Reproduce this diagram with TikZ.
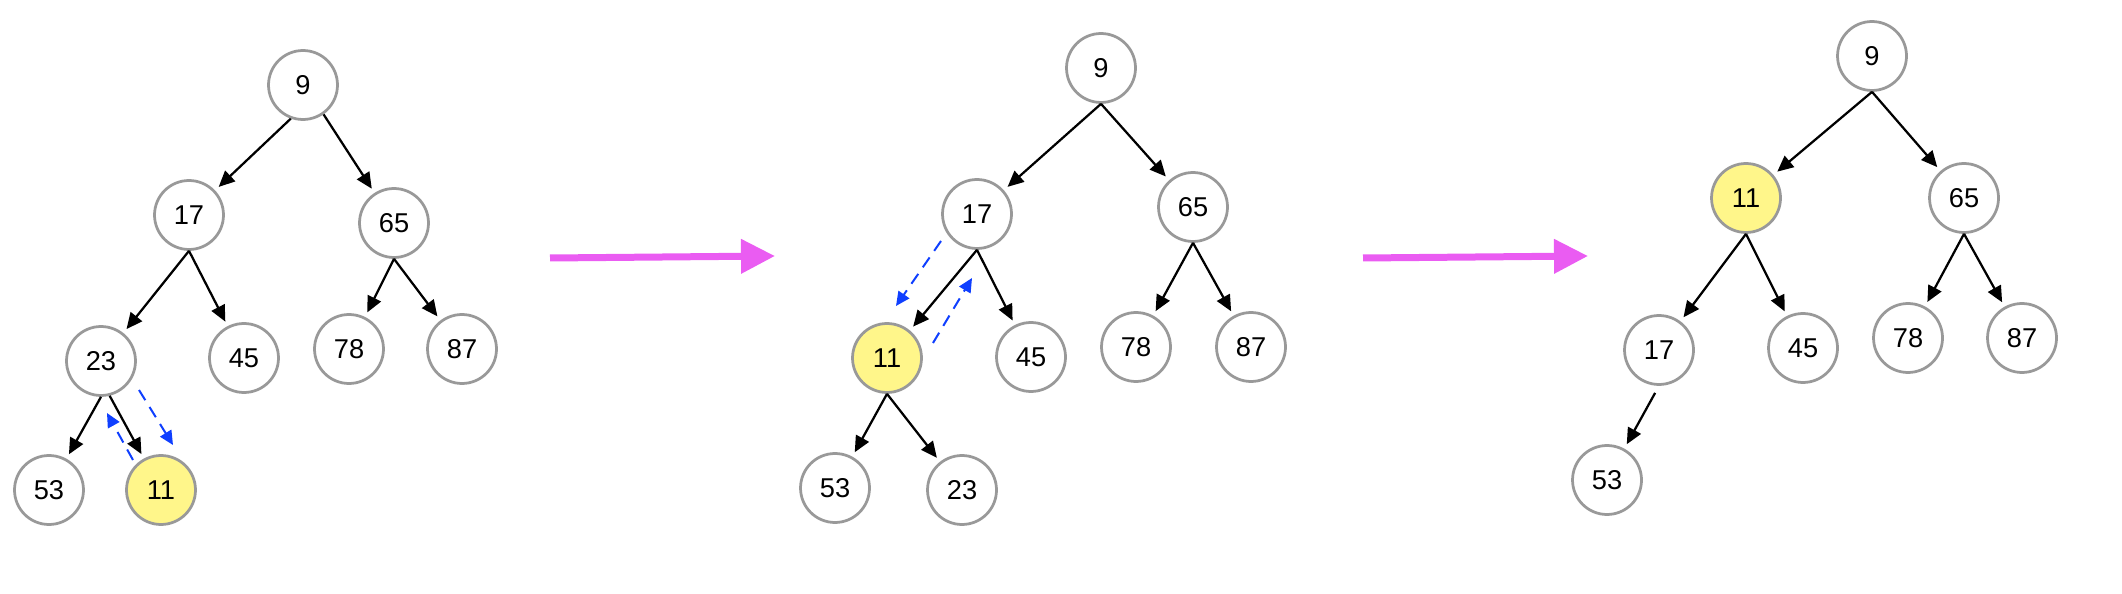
\documentclass[tikz,border=0pt]{standalone}
\usepackage{fontspec}
\setmainfont{Liberation Sans}
\usetikzlibrary{arrows.meta}

\definecolor{ringgray}{HTML}{999999}
\definecolor{movedyellow}{HTML}{FFF68A}
\definecolor{swapblue}{HTML}{0F3FFF}
\definecolor{stepmagenta}{HTML}{EA5CF2}

\begin{document}
\begin{tikzpicture}[x=0.02cm,y=-0.02cm,
    heapnode/.style={circle,draw=ringgray,line width=0.055cm,fill=white,
      minimum size=1.38cm,inner sep=0pt,font=\fontsize{15.5}{18}\selectfont},
    moved/.style={fill=movedyellow},
    heapedge/.style={-{Triangle[length=0.32cm,width=0.29cm]},line width=0.045cm,
      black,shorten >=0.1cm},
    swapline/.style={-{Triangle[length=0.28cm,width=0.26cm]},swapblue,
      line width=0.04cm,dash pattern=on 0.24cm off 0.16cm},
    nextarrow/.style={-{Triangle[length=0.68cm,width=0.66cm]},stepmagenta,
      line width=0.14cm}]
  % Fix the page to the picture
  \useasboundingbox (0,0) rectangle (2122,594);

  % First heap: 11 appended at the bottom
  \begin{scope}[every node/.append style={minimum size=1.33cm}]
    \node[heapnode] (a9)  at (303,85)  {9};
    \node[heapnode] (a17) at (189,215) {17};
    \node[heapnode] (a65) at (394,223) {65};
    \node[heapnode] (a23) at (101,361) {23};
    \node[heapnode] (a45) at (244,358) {45};
    \node[heapnode] (a78) at (349,349) {78};
    \node[heapnode] (a87) at (462,349) {87};
    \node[heapnode] (a53) at (49,490)  {53};
    \node[heapnode,moved] (a11) at (161,490) {11};
  \end{scope}
  \draw[heapedge] (a9.-110) -- (a17);
  \draw[heapedge] (a9.-55) -- (a65);
  \draw[heapedge] (a23.-76) -- (a11);
  \foreach \p/\c in {a17/a23,a17/a45,a65/a78,a65/a87,a23/a53}
    \draw[heapedge] (\p.south) -- (\c);

  % swap 23 <-> 11
  \coordinate (aup1) at (133,460);
  \coordinate (aup2) at (107,413);
  \coordinate (adn1) at (139,390);
  \coordinate (adn2) at (173,445);
  \draw[swapline] (aup1) -- (aup2);
  \draw[swapline] (adn1) -- (adn2);

  % Second heap: 11 one level up
  \begin{scope}[every node/.append style={minimum size=1.38cm}]
    \node[heapnode] (b9)  at (1101,68)  {9};
    \node[heapnode] (b17) at (977,214)  {17};
    \node[heapnode] (b65) at (1193,207) {65};
    \node[heapnode,moved] (b11) at (887,358) {11};
    \node[heapnode] (b45) at (1031,357) {45};
    \node[heapnode] (b78) at (1136,347) {78};
    \node[heapnode] (b87) at (1251,347) {87};
    \node[heapnode] (b53) at (835,488)  {53};
    \node[heapnode] (b23) at (962,490)  {23};
  \end{scope}
  \foreach \p/\c in {b9/b17,b9/b65,b17/b11,b17/b45,b65/b78,b65/b87,b11/b53,b11/b23}
    \draw[heapedge] (\p.south) -- (\c);

  % swap 17 <-> 11
  \coordinate (bdn1) at (941,241);
  \coordinate (bdn2) at (896,306);
  \coordinate (bup1) at (933,343);
  \coordinate (bup2) at (972,278);
  \draw[swapline] (bdn1) -- (bdn2);
  \draw[swapline] (bup1) -- (bup2);

  % Third heap: final state
  \begin{scope}[every node/.append style={minimum size=1.42cm}]
    \node[heapnode] (c9)  at (1872,56)  {9};
    \node[heapnode,moved] (c11) at (1746,198) {11};
    \node[heapnode] (c65) at (1964,198) {65};
    \node[heapnode] (c17) at (1659,350) {17};
    \node[heapnode] (c45) at (1803,348) {45};
    \node[heapnode] (c78) at (1908,338) {78};
    \node[heapnode] (c87) at (2022,338) {87};
    \node[heapnode] (c53) at (1607,480) {53};
  \end{scope}
  \foreach \p/\c in {c9/c11,c9/c65,c11/c17,c11/c45,c65/c78,c65/c87}
    \draw[heapedge] (\p.south) -- (\c);
  \draw[heapedge,shorten <=0.16cm] (c17.south) -- (c53);

  % step arrows between the heaps
  \coordinate (s1a) at (550,258);
  \coordinate (s1b) at (775,256);
  \coordinate (s2a) at (1363,258);
  \coordinate (s2b) at (1588,256);
  \draw[nextarrow] (s1a) -- (s1b);
  \draw[nextarrow] (s2a) -- (s2b);
\end{tikzpicture}
\end{document}
